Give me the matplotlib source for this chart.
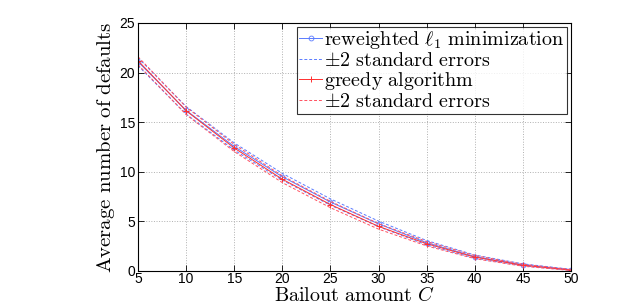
import matplotlib
matplotlib.use("Agg")
import matplotlib.pyplot as plt
import numpy as np

# bailout amounts and average defaults
C = [5, 10, 15, 20, 25, 30, 35, 40, 45, 50]
reweighted = [21.1, 16.2, 12.55, 9.5, 6.95, 4.75, 2.85, 1.45, 0.62, 0.12]
greedy = [21.2, 16.15, 12.4, 9.25, 6.7, 4.5, 2.75, 1.4, 0.58, 0.1]
# two standard errors
se2_rw = [0.4, 0.38, 0.36, 0.34, 0.32, 0.28, 0.22, 0.16, 0.1, 0.05]
se2_gr = [0.4, 0.38, 0.36, 0.34, 0.32, 0.28, 0.22, 0.16, 0.1, 0.05]

plt.rcParams['mathtext.fontset'] = 'cm'
plt.rcParams['font.family'] = ['Liberation Sans', 'DejaVu Sans']

fig = plt.figure(figsize=(6.3, 3.05), dpi=100)
ax = fig.add_axes([138 / 630, 34 / 305, 433 / 630, 248 / 305])

c = np.array(C)
rw = np.array(reweighted)
gr = np.array(greedy)
e1 = np.array(se2_rw)
e2 = np.array(se2_gr)

ax.plot(c, rw, color='#5a7bff', lw=0.7, marker='o', ms=3.5, mfc='none', mew=0.6,
        label=r'$\mathrm{reweighted}\ \ell_1\ \mathrm{minimization}$')
ax.plot(c, rw + e1, color='#5a7bff', lw=0.7, ls='--', dashes=(3, 2),
        label=r'$\pm2\ \mathrm{standard\ errors}$')
ax.plot(c, rw - e1, color='#5a7bff', lw=0.7, ls='--', dashes=(3, 2))
ax.plot(c, gr, color='#ff3030', lw=0.7, marker='+', ms=4, mew=0.7,
        label=r'$\mathrm{greedy\ algorithm}$')
ax.plot(c, gr + e2, color='#ff5060', lw=0.7, ls='--', dashes=(3, 2),
        label=r'$\pm2\ \mathrm{standard\ errors}$')
ax.plot(c, gr - e2, color='#ff5060', lw=0.7, ls='--', dashes=(3, 2))

ax.set_xlim(5, 50)
ax.set_ylim(0, 25)
ax.set_xticks(C)
ax.set_yticks([0, 5, 10, 15, 20, 25])
ax.tick_params(direction='in', top=True, right=True, labelsize=10, length=4, width=0.6, pad=2)
ax.tick_params(axis='x', pad=1)
ax.grid(True, ls=':', color='#b0b0b0', lw=0.7)
for s in ax.spines.values():
    s.set_linewidth(0.8)

ax.set_xlabel(r'$\mathrm{Bailout\ amount}\ C$', fontsize=14.5, labelpad=0)
ax.set_ylabel(r'$\mathrm{Average\ number\ of\ defaults}$', fontsize=15, labelpad=2)

leg = ax.legend(loc='upper right', fontsize=14.5, frameon=True, fancybox=False,
                edgecolor='black', handlelength=1.15, handletextpad=0.1,
                labelspacing=0.0, borderpad=0.12, borderaxespad=0.2)
leg.get_frame().set_linewidth(0.8)

fig.savefig('out.png', dpi=100)
